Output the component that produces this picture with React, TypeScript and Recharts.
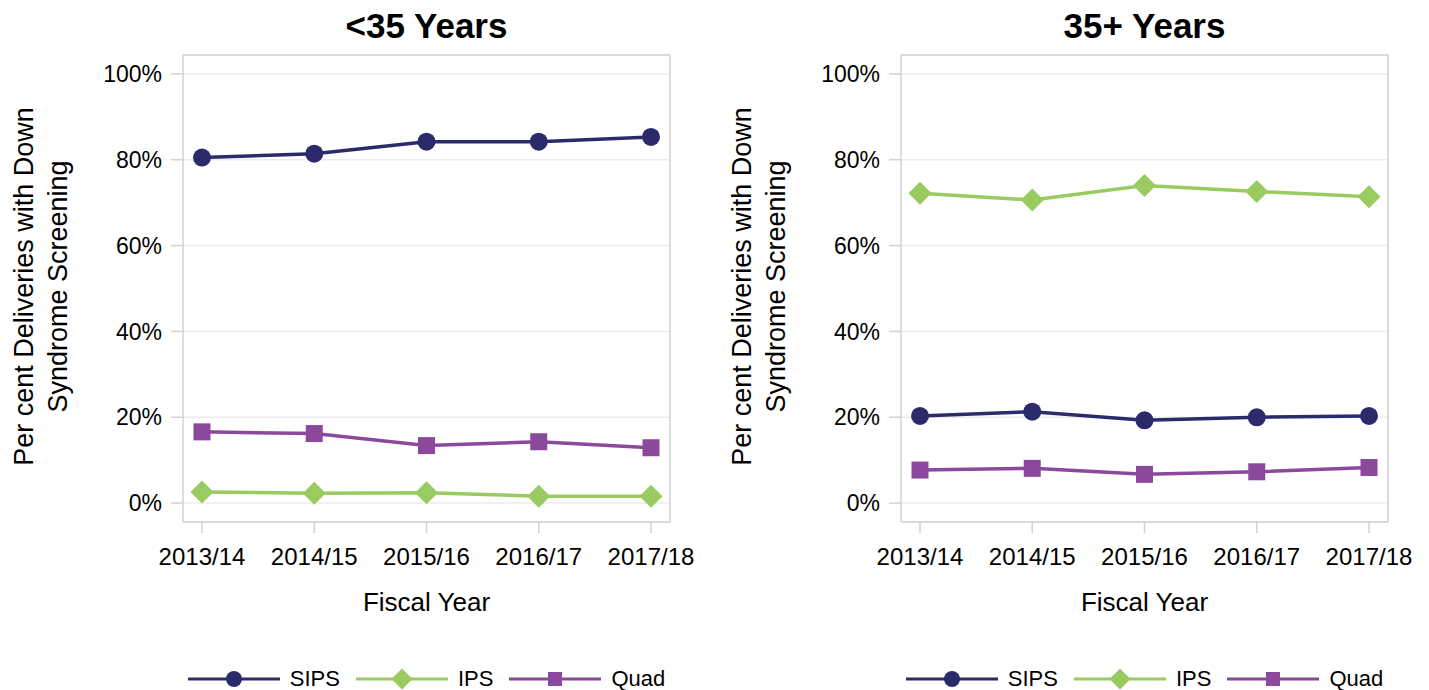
import React from "react";
import {
  CartesianGrid,
  Legend,
  Line,
  LineChart,
  XAxis,
  YAxis,
} from "recharts";

const years = ["2013/14", "2014/15", "2015/16", "2016/17", "2017/18"];

const under35Sips = [80.5, 81.4, 84.2, 84.2, 85.3];
const under35Ips = [2.6, 2.3, 2.4, 1.6, 1.6];
const under35Quad = [16.6, 16.2, 13.4, 14.3, 12.9];

const over35Sips = [20.3, 21.3, 19.3, 20.0, 20.3];
const over35Ips = [72.2, 70.6, 74.0, 72.6, 71.4];
const over35Quad = [7.7, 8.1, 6.7, 7.3, 8.3];

const yTicks = [0, 20, 40, 60, 80, 100];

const FRAME = "#d2d2d2";
const GRID = "#ececec";
const FONT = "'Liberation Sans', Arial, sans-serif";

const seriesStyle = [
  { key: "SIPS", color: "#2b2a6b", shape: "circle" },
  { key: "IPS", color: "#99cb60", shape: "diamond" },
  { key: "Quad", color: "#8c489d", shape: "square" },
];

function buildRows(sips: number[], ips: number[], quad: number[]) {
  return years.map((year, i) => ({ year, SIPS: sips[i], IPS: ips[i], Quad: quad[i] }));
}

function Marker({ shape, cx, cy, color, size }: any) {
  if (shape === "circle") return <circle cx={cx} cy={cy} r={size / 2} fill={color} />;
  if (shape === "square")
    return <rect x={cx - size / 2} y={cy - size / 2} width={size} height={size} fill={color} />;
  const h = size / 2;
  return (
    <polygon
      points={`${cx},${cy - h} ${cx + h},${cy} ${cx},${cy + h} ${cx - h},${cy}`}
      fill={color}
    />
  );
}

const dotSize: Record<string, number> = { circle: 18, square: 17, diamond: 23 };
const legendSize: Record<string, number> = { circle: 16, square: 14, diamond: 21 };

function makeDot(shape: string, color: string) {
  return (props: any) => {
    const { cx, cy, index } = props;
    if (cx == null || cy == null) return <g key={`d-${index}`} />;
    return (
      <g key={`d-${index}`}>
        <Marker shape={shape} cx={cx} cy={cy} color={color} size={dotSize[shape]} />
      </g>
    );
  };
}

function LegendContent() {
  return (
    <div
      style={{
        display: "flex",
        justifyContent: "center",
        alignItems: "center",
        height: 26,
        fontFamily: FONT,
        fontSize: 22,
        lineHeight: "26px",
        color: "#000",
      }}
    >
      {seriesStyle.map((s, i) => (
        <div key={s.key} style={{ display: "flex", alignItems: "center" }}>
          <svg width={92} height={26} style={{ display: "block" }}>
            <line x1={0} y1={13} x2={92} y2={13} stroke={s.color} strokeWidth={3} />
            <Marker shape={s.shape} cx={46} cy={13} color={s.color} size={legendSize[s.shape]} />
          </svg>
          <span style={{ marginLeft: 10, marginRight: i < seriesStyle.length - 1 ? 16 : 0 }}>
            {s.key}
          </span>
        </div>
      ))}
    </div>
  );
}

function YLabel({ viewBox }: any) {
  const x = viewBox.x;
  const cy = viewBox.y + viewBox.height / 2 - 2;
  return (
    <g fontSize={27} fill="#000">
      <text x={x + 33} y={cy} textAnchor="middle" transform={`rotate(-90, ${x + 33}, ${cy})`}>
        Per cent Deliveries with Down
      </text>
      <text x={x + 67} y={cy} textAnchor="middle" transform={`rotate(-90, ${x + 67}, ${cy})`}>
        Syndrome Screening
      </text>
    </g>
  );
}

function XLabel({ viewBox }: any) {
  return (
    <text
      x={viewBox.x + viewBox.width / 2}
      y={viewBox.y + 89}
      textAnchor="middle"
      fontSize={26}
      fill="#000"
    >
      Fiscal Year
    </text>
  );
}

function makeTitle(title: string) {
  return ({ viewBox }: any) => (
    <text
      x={viewBox.x + viewBox.width / 2}
      y={viewBox.y - 16}
      textAnchor="middle"
      fontSize={35}
      fontWeight="bold"
      fill="#000"
    >
      {title}
    </text>
  );
}

function Panel({ title, rows, width, marginRight }: any) {
  return (
    <LineChart
      width={width}
      height={690}
      data={rows}
      margin={{ top: 54, right: marginRight, bottom: 42, left: 0 }}
    >
      <CartesianGrid vertical={false} stroke={GRID} strokeWidth={1.5} />
      <XAxis
        dataKey="year"
        padding={{ left: 19, right: 19 }}
        height={100}
        stroke={FRAME}
        strokeWidth={1.5}
        tickSize={11}
        tickMargin={15}
        tick={{ fill: "#000", fontSize: 24 }}
        label={{ content: XLabel }}
      />
      <XAxis
        xAxisId="top"
        orientation="top"
        dataKey="year"
        height={1}
        tick={false}
        tickLine={false}
        stroke={FRAME}
        strokeWidth={1.5}
        label={{ content: makeTitle(title) }}
      />
      <YAxis
        domain={[-4.4, 104.4]}
        ticks={yTicks}
        allowDataOverflow
        width={183}
        stroke={FRAME}
        strokeWidth={1.5}
        tickSize={12}
        tickMargin={9}
        tick={{ fill: "#000", fontSize: 23 }}
        tickFormatter={(v: number) => `${v}%`}
        label={{ content: YLabel }}
      />
      <YAxis
        yAxisId="right"
        orientation="right"
        width={1}
        tick={false}
        tickLine={false}
        stroke={FRAME}
        strokeWidth={1.5}
      />
      {seriesStyle.map((s) => (
        <Line
          key={s.key}
          dataKey={s.key}
          stroke={s.color}
          strokeWidth={3.5}
          dot={makeDot(s.shape, s.color)}
          activeDot={false}
          isAnimationActive={false}
        />
      ))}
      <Legend
        verticalAlign="bottom"
        content={LegendContent}
        wrapperStyle={{ left: 183, width: 487, top: 666, bottom: "auto" }}
      />
    </LineChart>
  );
}

export default function App() {
  const youngRows = buildRows(under35Sips, under35Ips, under35Quad);
  const olderRows = buildRows(over35Sips, over35Ips, over35Quad);
  return (
    <div
      style={{
        position: "absolute",
        left: 0,
        top: 0,
        width: 1429,
        height: 690,
        background: "#fff",
        fontFamily: FONT,
        overflow: "hidden",
      }}
    >
      <div style={{ position: "absolute", left: 0, top: 0 }}>
        <Panel title="<35 Years" rows={youngRows} width={714} marginRight={43} />
      </div>
      <div style={{ position: "absolute", left: 718, top: 0 }}>
        <Panel title="35+ Years" rows={olderRows} width={711} marginRight={40} />
      </div>
    </div>
  );
}
